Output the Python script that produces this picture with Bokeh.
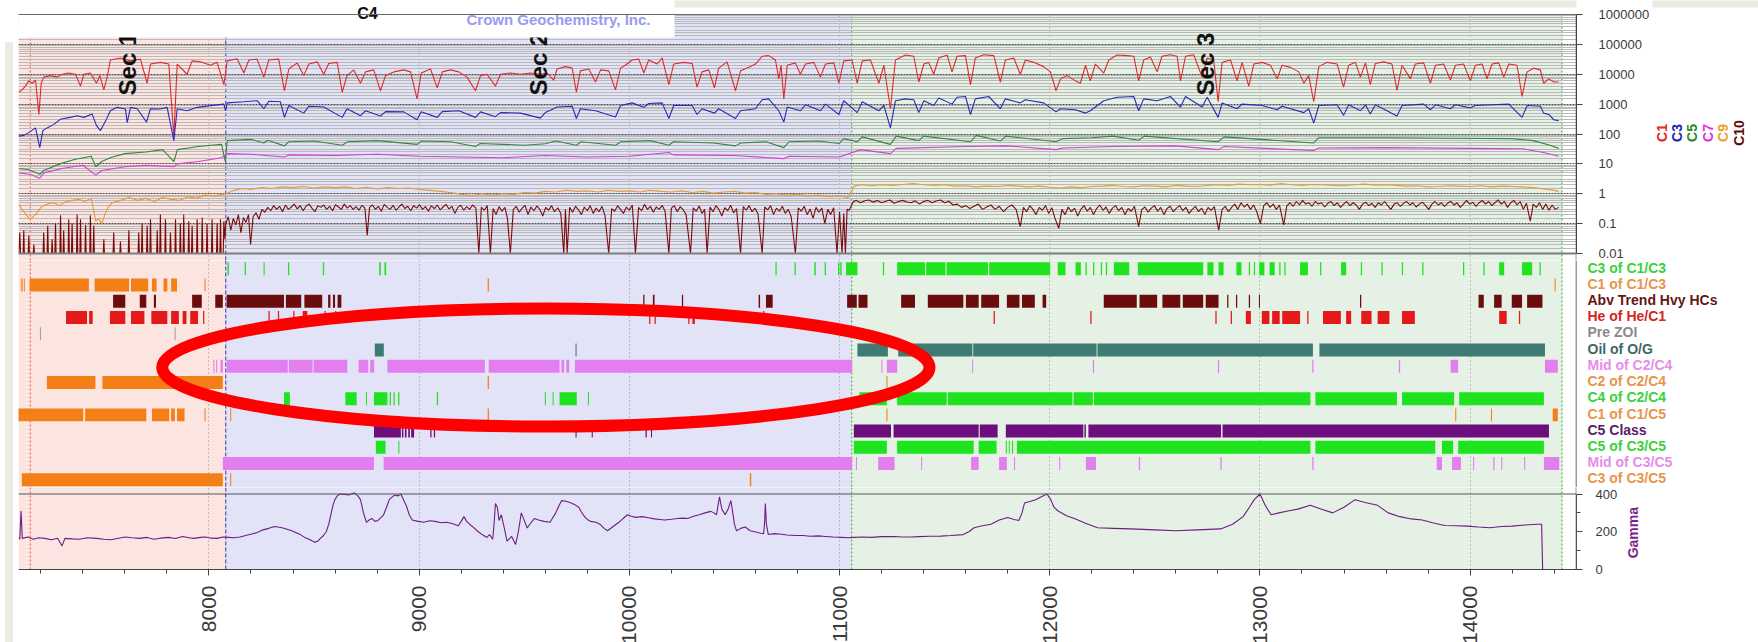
import math
from bokeh.plotting import figure
from bokeh.models import (Range1d, FixedTicker, CustomJSTickFormatter, Span, Grid,
                          ColumnDataSource, Div)
from bokeh.layouts import column, row
from bokeh.core.properties import value
from bokeh.embed import file_html
from bokeh.resources import INLINE

FONT = "Liberation Sans"

# ------------------------------------------------------------------ depth axis
DEPTH_MIN, DEPTH_MAX = 7094, 14506
X_MAJOR = [8000, 9000, 10000, 11000, 12000, 13000, 14000]
X_MINOR = [d for d in range(7200, 14500, 200) if d % 1000 != 0]

# ------------------------------------------------------------------ sections
SECTIONS = [("Sec 1", 7094, 8080, "#FCE4E1"),
            ("Sec 2", 8080, 11058, "#E3E3F8"),
            ("Sec 3", 11058, 14437, "#E4F1E4")]
SEC_LABEL_DEPTH = [7612, 9567, 12741]
BOUNDARY_LINES = [(7150, "#E05050", "2 2"), (8080, "#3434B0", "4 2"),
                  (11058, "#35A535", "2 2"), (14437, "#35A535", "2 2")]

# ------------------------------------------------------------------ gas curves (depth ft, ppm)
C1 = [(7095,2500),(7111,3000),(7127,4000),(7143,6000),(7159,5000),(7175,6300),(7191,450),(7202,5000),
      (7214,8000),(7246,9000),(7278,8000),(7302,10000),(7333,11000),(7365,10000),(7389,4000),(7405,10000),
      (7436,11000),(7465,5000),(7481,9000),(7500,3000),(7516,8000),(7531,30000),(7579,35000),(7627,28000),
      (7674,32000),(7706,5000),(7722,22000),(7769,25000),(7809,22000),(7833,80),(7849,22000),(7896,10000),
      (7920,28000),(7960,26000),(8007,20000),(8039,25000),(8071,4500),(8087,28000),(8134,33000),(8166,11000),
      (8190,30000),(8229,32000),(8261,8000),(8285,30000),(8332,32000),(8359,2800),(8380,15000),(8420,24000),
      (8451,9000),(8475,22000),(8515,26000),(8546,10000),(8570,23000),(8610,25000),(8634,2500),(8657,9000),
      (8689,14000),(8721,5000),(8745,12000),(8784,14000),(8816,2800),(8840,9000),(8880,12000),(8927,14000),
      (8959,12000),(8990,1500),(9010,11000),(9054,15000),(9086,3500),(9110,12000),(9149,14000),(9189,12000),
      (9228,8000),(9268,2800),(9292,9000),(9323,10000),(9363,4000),(9387,10000),(9434,11000),(9482,10000),
      (9529,11000),(9577,10000),(9609,11000),(9640,6300),(9656,15000),(9696,18000),(9728,16000),(9748,2500),
      (9767,13000),(9807,15000),(9839,5500),(9863,14000),(9902,13000),(9934,3000),(9958,16000),(9981,20000),
      (10013,30000),(10045,32000),(10069,11000),(10092,30000),(10132,22000),(10156,35000),(10188,4500),
      (10211,22000),(10259,25000),(10299,23000),(10322,3700),(10346,12000),(10378,14000),(10405,3500),
      (10425,16000),(10465,26000),(10505,2800),(10529,13000),(10568,17000),(10600,22000),(10632,40000),
      (10663,42000),(10695,30000),(10711,7000),(10722,20000),(10735,1500),(10751,20000),(10790,24000),
      (10814,10000),(10838,22000),(10878,25000),(10909,8000),(10933,22000),(10973,24000),(10997,5000),
      (11020,28000),(11060,30000),(11084,5000),(11108,28000),(11147,30000),(11187,5000),(11211,20000),
      (11242,700),(11266,30000),(11313,44000),(11353,40000),(11377,5500),(11401,22000),(11424,25000),
      (11448,10000),(11472,35000),(11512,44000),(11535,12000),(11559,40000),(11599,42000),(11623,4500),
      (11646,35000),(11686,45000),(11734,42000),(11765,5500),(11789,30000),(11829,35000),(11860,10000),
      (11884,30000),(11924,25000),(11971,18000),(12003,12000),(12030,2800),(12051,7000),(12083,9000),
      (12122,6000),(12146,5000),(12170,20000),(12193,6000),(12217,22000),(12257,11000),(12281,30000),
      (12320,44000),(12368,42000),(12400,40000),(12423,6000),(12447,30000),(12479,38000),(12511,12000),
      (12534,40000),(12574,45000),(12606,40000),(12622,6000),(12646,40000),(12685,45000),(12725,8000),
      (12749,35000),(12780,30000),(12801,1200),(12820,25000),(12860,30000),(12891,6000),(12915,25000),
      (12947,4000),(12971,22000),(13010,25000),(13050,20000),(13082,7000),(13105,20000),(13145,17000),
      (13185,12000),(13209,5000),(13232,9000),(13256,1200),(13280,18000),(13320,25000),(13367,22000),
      (13398,3700),(13422,20000),(13454,25000),(13478,8000),(13502,24000),(13525,4500),(13549,23000),
      (13589,26000),(13628,22000),(13652,2900),(13676,20000),(13716,7000),(13739,22000),(13779,24000),
      (13811,5000),(13835,20000),(13874,22000),(13906,6500),(13930,20000),(13969,22000),(14001,6000),
      (14025,20000),(14057,22000),(14080,7000),(14104,22000),(14136,24000),(14160,8000),(14184,22000),
      (14223,20000),(14247,1800),(14271,12000),(14302,16000),(14334,14000),(14350,5000),(14374,7000),
      (14398,5500),(14421,5500)]

C3 = [(7096,85),(7120,90),(7150,120),(7175,160),(7195,35),(7210,130),(7230,160),(7262,210),(7293,310),
      (7340,360),(7373,410),(7405,360),(7444,470),(7465,190),(7484,130),(7508,270),(7531,600),(7563,780),
      (7603,690),(7611,240),(7627,780),(7659,700),(7703,250),(7722,700),(7769,690),(7801,780),(7833,60),
      (7849,700),(7896,600),(7944,780),(8007,890),(8071,1000),(8079,600),(8087,1100),(8166,1200),(8230,1300),
      (8261,700),(8285,1250),(8340,1200),(8359,360),(8380,900),(8451,500),(8475,850),(8546,800),(8634,360),
      (8657,700),(8721,410),(8745,600),(8816,400),(8840,560),(8927,550),(8990,300),(9010,560),(9086,360),
      (9110,560),(9189,600),(9268,360),(9292,550),(9363,380),(9387,520),(9482,500),(9577,340),(9600,520),
      (9640,700),(9656,800),(9728,850),(9748,330),(9767,700),(9839,600),(9934,370),(9958,900),(10013,1100),
      (10069,780),(10092,1050),(10156,1100),(10188,330),(10211,900),(10299,900),(10322,450),(10346,700),
      (10405,500),(10425,700),(10505,330),(10529,600),(10600,700),(10632,1400),(10663,1500),(10711,600),
      (10735,250),(10751,800),(10814,600),(10838,950),(10909,600),(10933,1000),(10997,450),(11020,1300),
      (11084,520),(11108,1200),(11187,600),(11211,900),(11242,160),(11266,1300),(11313,1500),(11353,1400),
      (11377,520),(11401,1300),(11448,900),(11472,1600),(11535,1000),(11559,1700),(11599,1800),(11623,450),
      (11646,1500),(11710,1800),(11765,700),(11789,1500),(11860,1100),(11884,1400),(11971,1100),(12030,550),
      (12051,700),(12122,650),(12170,500),(12193,600),(12257,1300),(12320,1700),(12400,1800),(12423,600),
      (12447,1500),(12511,1300),(12574,1800),(12622,800),(12646,1800),(12725,800),(12749,1700),(12801,360),
      (12820,1100),(12891,700),(12915,1000),(13010,900),(13082,650),(13105,850),(13209,520),(13232,700),
      (13256,230),(13280,900),(13367,950),(13398,420),(13422,950),(13478,600),(13502,950),(13525,470),
      (13549,950),(13652,400),(13676,900),(13779,1000),(13811,650),(13835,950),(13906,700),(13930,950),
      (14001,750),(14025,900),(14104,950),(14184,1000),(14247,360),(14271,900),(14334,850),(14350,500),
      (14374,450),(14398,300),(14421,280)]

C5 = [(7096,7),(7140,6.5),(7195,4.5),(7215,6),(7290,10),(7360,14),(7440,18),(7462,8),(7490,12),(7530,16),
      (7600,22),(7700,25),(7780,30),(7833,12),(7850,30),(7950,38),(8060,45),(8078,12),(8087,60),(8200,66),
      (8261,50),(8280,62),(8359,40),(8380,55),(8500,58),(8634,42),(8660,55),(8800,60),(8990,45),(9010,58),
      (9150,55),(9268,38),(9290,48),(9400,45),(9500,42),(9600,47),(9650,58),(9748,42),(9770,55),(9934,42),
      (9960,55),(10100,60),(10188,42),(10210,55),(10400,50),(10505,40),(10530,50),(10650,55),(10735,35),
      (10760,55),(10900,58),(10997,48),(11020,70),(11084,55),(11108,80),(11242,45),(11270,85),(11377,60),
      (11400,85),(11623,55),(11650,90),(11765,58),(11790,85),(12030,55),(12060,70),(12200,75),(12300,85),
      (12423,62),(12450,85),(12801,55),(12830,80),(13256,50),(13280,75),(13600,75),(13900,72),(14200,70),
      (14300,60),(14380,42),(14421,33)]

C7 = [(7096,5),(7150,4.5),(7195,3.3),(7215,5),(7300,7),(7400,9),(7462,4.2),(7490,6),(7600,8),(7700,9),
      (7833,8),(7850,10),(7950,12),(8060,16),(8087,22),(8200,21),(8359,17),(8380,20),(8600,19),(8800,21),
      (9000,18),(9200,17),(9400,16),(9600,19),(9800,17),(10000,18),(10188,24),(10210,20),(10500,19),
      (10735,15),(10760,18),(11000,17),(11100,30),(11242,22),(11270,33),(11600,38),(11800,40),(12030,30),
      (12060,34),(12300,38),(12600,40),(12801,30),(12830,38),(13256,28),(13280,34),(13600,35),(14000,33),
      (14250,32),(14350,24),(14421,18)]

C9 = [(7096,0.45),(7110,0.3),(7130,0.2),(7150,0.14),(7175,0.2),(7200,0.35),(7230,0.45),(7260,0.5),
      (7290,0.4),(7320,0.55),(7350,0.6),(7380,0.65),(7410,0.55),(7440,0.7),(7462,0.12),(7475,0.15),
      (7490,0.1),(7505,0.2),(7520,0.35),(7540,0.5),(7580,0.6),(7620,0.75),(7660,0.6),(7700,0.7),(7740,0.55),
      (7780,0.75),(7820,0.65),(7860,0.6),(7900,0.8),(7940,0.7),(7980,0.9),(8030,0.85),(8080,1.0),(8120,1.3),
      (8160,1.5),(8200,1.4),(8250,1.6),(8300,1.5),(8350,1.7),(8400,1.6),(8450,1.75),(8500,1.55),(8550,1.7),
      (8600,1.6),(8650,1.7),(8700,1.5),(8750,1.65),(8800,1.45),(8850,1.6),(8900,1.5),(8950,1.55),(9000,1.4),
      (9050,1.3),(9100,1.2),(9150,1.1),(9200,0.95),(9250,0.85),(9300,1.0),(9350,0.9),(9400,1.0),(9450,0.95),
      (9500,1.1),(9550,1.05),(9600,1.2),(9650,1.15),(9700,1.3),(9750,1.2),(9800,1.25),(9850,1.15),(9900,1.3),
      (9950,1.2),(10000,1.25),(10050,1.15),(10100,1.3),(10150,1.2),(10200,1.15),(10250,1.25),(10300,1.1),
      (10350,1.2),(10400,1.05),(10450,1.15),(10500,1.2),(10550,1.05),(10600,1.1),(10650,0.95),(10700,1.0),
      (10750,0.9),(10800,0.95),(10850,0.85),(10900,0.9),(10950,0.8),(11000,0.85),(11040,0.75),(11070,1.8),
      (11100,2.0),(11150,1.85),(11200,2.0),(11250,1.9),(11300,2.05),(11350,2.2),(11400,2.0),(11450,1.9),
      (11500,2.0),(11550,1.8),(11600,1.85),(11650,1.7),(11700,1.8),(11750,1.75),(11800,1.9),(11850,1.8),
      (11900,1.7),(11950,1.8),(12000,1.65),(12050,1.55),(12100,1.7),(12150,1.6),(12200,1.75),(12250,1.8),
      (12300,1.9),(12350,1.75),(12400,1.7),(12450,1.85),(12500,1.8),(12550,1.7),(12600,1.9),(12650,1.8),
      (12700,1.75),(12750,1.9),(12800,2.0),(12850,1.9),(12900,2.1),(12950,2.0),(13000,2.05),(13050,1.95),
      (13100,2.2),(13150,2.0),(13200,1.9),(13250,2.05),(13300,2.0),(13350,1.9),(13400,1.85),(13450,2.0),
      (13500,2.1),(13550,1.95),(13600,2.0),(13650,1.9),(13700,1.8),(13750,1.85),(13800,1.7),(13850,1.75),
      (13900,1.85),(13950,1.8),(14000,1.75),(14050,1.85),(14100,1.7),(14150,1.8),(14200,1.75),(14250,1.7),
      (14300,1.6),(14350,1.45),(14400,1.3),(14421,1.2)]

C10 = [(7096,0.01),(7100,0.05),(7104,0.01),(7116,0.01),(7119,0.06),(7122,0.01),(7140,0.01),(7143,0.04),
       (7146,0.01),(7164,0.01),(7167,0.02),(7170,0.01),(7211,0.01),(7214,0.05),(7217,0.01),(7230,0.01),
       (7233,0.085),(7236,0.01),(7251,0.01),(7254,0.03),(7257,0.01),(7267,0.01),(7270,0.1),(7273,0.01),
       (7291,0.01),(7294,0.19),(7297,0.01),(7306,0.01),(7309,0.06),(7312,0.01),(7330,0.01),(7333,0.14),
       (7336,0.01),(7346,0.01),(7349,0.1),(7352,0.01),(7370,0.01),(7373,0.2),(7376,0.01),(7386,0.01),
       (7389,0.14),(7392,0.01),(7410,0.01),(7413,0.09),(7416,0.01),(7433,0.01),(7436,0.19),(7439,0.01),
       (7449,0.01),(7452,0.085),(7455,0.01),(7497,0.01),(7500,0.03),(7503,0.01),(7544,0.01),(7547,0.05),
       (7550,0.01),(7576,0.01),(7579,0.025),(7582,0.01),(7616,0.01),(7619,0.06),(7622,0.01),(7663,0.01),
       (7666,0.05),(7669,0.01),(7679,0.01),(7682,0.1),(7685,0.01),(7703,0.01),(7706,0.085),(7709,0.01),
       (7719,0.01),(7722,0.14),(7725,0.01),(7751,0.01),(7754,0.06),(7757,0.01),(7766,0.01),(7769,0.2),
       (7772,0.01),(7790,0.01),(7793,0.14),(7796,0.01),(7814,0.01),(7817,0.05),(7820,0.01),(7838,0.01),
       (7841,0.14),(7844,0.01),(7861,0.01),(7864,0.1),(7867,0.01),(7877,0.01),(7880,0.2),(7883,0.01),
       (7901,0.01),(7904,0.12),(7907,0.01),(7917,0.01),(7920,0.085),(7923,0.01),(7941,0.01),(7944,0.14),
       (7947,0.01),(7965,0.01),(7968,0.16),(7971,0.01),(7988,0.01),(7991,0.1),(7994,0.01),(8012,0.01),
       (8015,0.14),(8018,0.01),(8036,0.01),(8039,0.1),(8042,0.01),(8052,0.01),(8055,0.14),(8058,0.01),
       (8068,0.01),(8071,0.12),(8076,0.03),
       (8080,0.1),(8092,0.17),(8104,0.06),(8116,0.15),(8128,0.09),(8140,0.2),(8152,0.05),(8164,0.16),
       (8176,0.11),(8188,0.2),(8198,0.02),(8210,0.17),(8224,0.23),(8238,0.14),(8252,0.3),(8266,0.24),
       (8280,0.35),(8294,0.27),(8308,0.4),(8322,0.3),(8336,0.38),(8350,0.25),(8364,0.42),(8378,0.3),
       (8392,0.36),(8406,0.45),(8420,0.31),(8434,0.4),(8448,0.27),(8462,0.38),(8476,0.45),(8490,0.33),
       (8504,0.25),(8518,0.4),(8532,0.35),(8546,0.42),(8560,0.3),(8574,0.38),(8588,0.27),(8602,0.43),
       (8616,0.36),(8630,0.3),(8644,0.45),(8658,0.33),(8672,0.4),(8686,0.3),(8700,0.37),(8714,0.28),
       (8728,0.41),(8742,0.33),(8753,0.04),(8764,0.35),(8778,0.42),(8792,0.3),(8806,0.38),(8820,0.26),
       (8834,0.44),(8848,0.35),(8862,0.3),(8876,0.41),(8890,0.28),(8904,0.36),(8918,0.45),(8932,0.32),
       (8946,0.38),(8960,0.27),(8974,0.4),(8988,0.33),(9002,0.43),(9016,0.3),(9030,0.37),(9044,0.26),
       (9058,0.4),(9072,0.32),(9086,0.42),(9100,0.29),(9114,0.36),(9128,0.44),(9142,0.31),(9156,0.38),
       (9170,0.22),(9184,0.35),(9198,0.41),(9212,0.28),(9226,0.37),(9240,0.3),(9254,0.42),(9270,0.33),
       (9284,0.01),(9296,0.36),(9310,0.28),(9324,0.4),(9339,0.01),(9352,0.32),(9366,0.2),(9380,0.37),
       (9394,0.26),(9408,0.35),(9420,0.15),(9434,0.01),(9448,0.3),(9462,0.38),(9476,0.24),(9490,0.33),
       (9504,0.41),(9518,0.2),(9532,0.36),(9546,0.27),(9560,0.39),(9574,0.3),(9588,0.18),(9602,0.35),
       (9616,0.28),(9630,0.4),(9644,0.25),(9660,0.34),(9674,0.22),(9688,0.01),(9696,0.3),(9704,0.01),
       (9716,0.35),(9730,0.24),(9744,0.38),(9758,0.29),(9772,0.2),(9786,0.36),(9800,0.27),(9814,0.4),
       (9828,0.22),(9842,0.33),(9856,0.25),(9870,0.38),(9884,0.19),(9902,0.01),(9916,0.32),(9930,0.26),
       (9944,0.4),(9958,0.3),(9972,0.22),(9986,0.36),(10000,0.28),(10014,0.42),(10029,0.01),(10044,0.35),
       (10058,0.27),(10072,0.44),(10086,0.3),(10100,0.38),(10114,0.24),(10128,0.36),(10142,0.3),(10156,0.41),
       (10170,0.26),(10188,0.01),(10200,0.33),(10214,0.4),(10228,0.25),(10242,0.37),(10256,0.29),(10270,0.2),
       (10291,0.01),(10304,0.34),(10318,0.26),(10332,0.39),(10346,0.22),(10358,0.3),(10370,0.01),(10384,0.36),
       (10398,0.25),(10412,0.4),(10426,0.3),(10440,0.18),(10454,0.34),(10468,0.27),(10482,0.41),(10496,0.23),
       (10510,0.32),(10529,0.01),(10542,0.37),(10556,0.28),(10570,0.4),(10584,0.25),(10598,0.33),(10612,0.21),
       (10632,0.01),(10644,0.36),(10658,0.29),(10672,0.4),(10686,0.2),(10700,0.33),(10714,0.26),(10728,0.38),
       (10742,0.22),(10756,0.3),(10770,0.17),(10790,0.01),(10804,0.34),(10818,0.26),(10832,0.38),(10846,0.2),
       (10860,0.31),(10874,0.15),(10888,0.35),(10902,0.24),(10916,0.33),(10930,0.1),(10944,0.3),(10958,0.2),
       (10972,0.34),(10988,0.01),(11000,0.25),(11012,0.01),(11020,0.22),(11028,0.01),(11036,0.3),
       (11046,0.28),(11056,0.4),
       (11066,0.55),(11080,0.6),(11100,0.5),(11120,0.58),(11140,0.62),(11160,0.52),(11180,0.6),(11200,0.5),
       (11220,0.56),(11240,0.62),(11260,0.48),(11280,0.55),(11300,0.6),(11320,0.53),(11340,0.5),(11360,0.58),
       (11380,0.45),(11400,0.55),(11420,0.6),(11440,0.5),(11460,0.57),(11480,0.62),(11500,0.5),(11520,0.56),
       (11540,0.42),(11560,0.45),(11580,0.35),(11600,0.4),(11620,0.32),(11640,0.38),(11660,0.45),(11680,0.3),
       (11700,0.36),(11720,0.42),(11740,0.3),(11760,0.38),(11780,0.25),(11800,0.35),(11820,0.42),(11840,0.3),
       (11860,0.08),(11875,0.35),(11890,0.25),(11905,0.4),(11920,0.3),(11935,0.2),(11950,0.35),(11965,0.28),
       (11980,0.4),(11995,0.22),(12010,0.34),(12025,0.15),(12043,0.07),(12058,0.3),(12073,0.2),(12088,0.36),
       (12103,0.25),(12118,0.33),(12133,0.18),(12148,0.3),(12163,0.4),(12178,0.26),(12193,0.35),(12208,0.2),
       (12223,0.32),(12238,0.42),(12253,0.28),(12268,0.36),(12283,0.22),(12298,0.33),(12313,0.4),(12328,0.27),
       (12343,0.35),(12358,0.2),(12373,0.32),(12388,0.26),(12403,0.38),(12423,0.08),(12438,0.3),(12453,0.36),
       (12468,0.24),(12483,0.33),(12498,0.4),(12513,0.26),(12528,0.35),(12543,0.2),(12558,0.32),(12573,0.38),
       (12588,0.25),(12603,0.33),(12618,0.4),(12633,0.27),(12648,0.35),(12663,0.22),(12678,0.3),(12693,0.38),
       (12708,0.25),(12723,0.33),(12738,0.2),(12753,0.35),(12768,0.28),(12783,0.37),(12804,0.06),(12820,0.3),
       (12835,0.38),(12850,0.25),(12865,0.35),(12880,0.45),(12895,0.3),(12910,0.5),(12925,0.36),(12940,0.45),
       (12955,0.3),(12970,0.42),(12985,0.25),(13002,0.1),(13018,0.4),(13033,0.5),(13048,0.35),(13063,0.45),
       (13078,0.3),(13093,0.42),(13113,0.09),(13128,0.4),(13143,0.5),(13158,0.38),(13173,0.55),(13188,0.42),
       (13203,0.6),(13218,0.45),(13233,0.5),(13248,0.38),(13263,0.55),(13278,0.45),(13293,0.5),(13308,0.36),
       (13323,0.48),(13338,0.55),(13353,0.4),(13368,0.5),(13383,0.35),(13398,0.45),(13413,0.55),(13428,0.4),
       (13443,0.5),(13458,0.42),(13473,0.3),(13488,0.45),(13503,0.52),(13518,0.4),(13533,0.48),(13548,0.35),
       (13563,0.5),(13578,0.42),(13593,0.55),(13608,0.4),(13623,0.3),(13638,0.45),(13653,0.5),(13668,0.38),
       (13683,0.48),(13698,0.55),(13713,0.42),(13728,0.5),(13743,0.36),(13758,0.45),(13773,0.52),(13788,0.4),
       (13803,0.3),(13818,0.45),(13833,0.55),(13848,0.42),(13863,0.5),(13878,0.38),(13893,0.48),(13908,0.56),
       (13923,0.42),(13938,0.5),(13953,0.35),(13968,0.45),(13983,0.6),(13998,0.45),(14013,0.52),(14028,0.38),
       (14043,0.5),(14058,0.6),(14073,0.45),(14088,0.55),(14103,0.4),(14118,0.5),(14133,0.62),(14148,0.45),
       (14163,0.55),(14178,0.35),(14193,0.5),(14208,0.6),(14223,0.42),(14238,0.55),(14253,0.3),(14268,0.48),
       (14286,0.12),(14300,0.45),(14315,0.35),(14330,0.5),(14345,0.3),(14360,0.45),(14375,0.28),(14390,0.42),
       (14405,0.3),(14421,0.35)]

GAS_CURVES = [("C1", C1, "#DE2A2A"), ("C3", C3, "#2A2AB8"), ("C5", C5, "#2F8A3A"),
              ("C7", C7, "#D43ED4"), ("C9", C9, "#E99A35"), ("C10", C10, "#7A0B0B")]
GAS_LABEL_COLORS = ["#E02828", "#2323B5", "#2C8A2C", "#DD33DD", "#F0A030", "#5E0A0A"]
LOG_TICKS = [0.01, 0.1, 1, 10, 100, 1000, 10000, 100000, 1000000]

# ------------------------------------------------------------------ gamma ray (depth ft, API)
GAMMA = [(7097,170),(7100,160),(7106,310),(7112,165),(7140,172),(7165,160),(7190,168),(7220,165),(7250,158),
         (7280,166),(7301,125),(7315,165),(7350,162),(7384,160),(7420,168),(7465,165),(7500,160),(7534,158),
         (7570,166),(7602,172),(7635,168),(7670,165),(7705,170),(7738,160),(7770,166),(7807,170),(7840,164),
         (7875,175),(7905,168),(7930,165),(7960,170),(7984,172),(8010,166),(8039,165),(8065,172),(8093,170),
         (8120,168),(8148,172),(8175,180),(8203,188),(8230,196),(8257,210),(8285,218),(8312,228),(8335,224),
         (8353,220),(8375,212),(8394,205),(8415,195),(8435,185),(8455,170),(8476,160),(8490,152),(8503,145),
         (8518,150),(8530,165),(8545,180),(8558,200),(8570,240),(8580,290),(8590,340),(8599,370),(8612,392),
         (8626,400),(8645,398),(8667,395),(8680,402),(8694,405),(8708,390),(8721,370),(8735,300),(8749,250),
         (8762,262),(8776,270),(8790,255),(8804,260),(8818,275),(8831,290),(8845,330),(8858,370),(8872,385),
         (8885,395),(8900,390),(8913,400),(8927,365),(8940,335),(8953,290),(8967,262),(8995,255),(9022,250),
         (9050,258),(9077,255),(9104,248),(9131,250),(9160,242),(9186,232),(9200,255),(9213,280),(9226,255),
         (9240,240),(9260,222),(9281,200),(9300,185),(9322,170),(9335,185),(9350,160),(9357,250),(9363,350),
         (9372,330),(9380,260),(9391,290),(9405,220),(9418,150),(9440,175),(9459,133),(9472,200),(9486,300),
         (9500,260),(9514,220),(9530,245),(9548,270),(9568,262),(9595,255),(9623,250),(9636,275),(9650,300),
         (9664,335),(9678,365),(9698,362),(9718,355),(9738,345),(9759,330),(9772,305),(9787,280),(9800,265),
         (9815,255),(9841,250),(9860,240),(9880,218),(9896,205),(9920,225),(9950,250),(9970,270),(9991,290),
         (10010,282),(10030,276),(10060,280),(10090,274),(10120,268),(10145,265),(10169,262),(10200,266),
         (10230,270),(10255,272),(10278,270),(10305,282),(10333,290),(10360,300),(10388,308),(10402,300),
         (10415,290),(10422,340),(10429,385),(10440,320),(10456,290),(10470,320),(10483,365),(10492,300),
         (10500,240),(10510,205),(10530,218),(10551,225),(10575,205),(10606,197),(10625,192),(10639,190),
         (10644,260),(10647,350),(10652,240),(10661,185),(10690,190),(10715,188),(10750,183),(10790,180),
         (10825,180),(10860,176),(10900,178),(10934,175),(10970,172),(11010,170),(11043,168),(11070,170),
         (11110,172),(11152,170),(11200,174),(11261,175),(11300,172),(11338,172),(11380,174),(11430,176),
         (11481,177),(11530,180),(11588,185),(11615,200),(11640,221),(11680,232),(11720,240),(11760,262),
         (11800,275),(11830,265),(11853,260),(11868,300),(11880,352),(11905,360),(11933,370),(11960,385),
         (11987,400),(12005,370),(12020,330),(12040,310),(12080,285),(12120,269),(12170,245),(12227,221),
         (12300,218),(12387,215),(12500,210),(12600,205),(12700,210),(12813,215),(12870,240),(12920,280),
         (12950,330),(12973,370),(13000,400),(13025,340),(13053,290),(13090,300),(13133,310),(13180,320),
         (13240,340),(13290,320),(13346,300),(13400,330),(13453,370),(13500,355),(13560,340),(13610,300),
         (13666,280),(13720,268),(13772,262),(13830,245),(13880,233),(13930,232),(13986,230),(14040,225),
         (14093,221),(14150,228),(14200,230),(14260,236),(14317,240),(14340,240),(14345,0)]
GAMMA_TICKS = [0, 200, 400]

# ------------------------------------------------------------------ flag intervals (depth ft)
C3_OF_C1C3 = [(8088,8095),(8170,8176),(8260,8265),(8376,8382),(8542,8548),(8810,8818),(8835,8843),
              (10695,10701),(10786,10792),(10880,10887),(10929,10935),(10993,10999),(11003,11010),
              (11031,11085),(11206,11212),(11274,11407),(11412,11504),(11509,11706),(11712,12002),
              (12038,12075),(12123,12148),(12170,12176),(12206,12212),(12243,12249),(12267,12273),
              (12305,12378),(12419,12730),(12750,12779),(12803,12827),(12888,12912),(12947,12953),
              (12971,12977),(12997,13021),(13046,13070),(13092,13098),(13116,13122),(13191,13228),
              (13286,13292),(13386,13410),(13480,13486),(13578,13584),(13675,13681),(13772,13778),
              (13966,13972),(14063,14069),(14138,14162),(14247,14295),(14330,14336)]
C1_OF_C1C3 = [(7105,7109),(7112,7116),(7120,7124),(7147,7429),(7456,7620),(7629,7711),(7729,7751),
              (7784,7802),(7820,7848),(7979,7984),(9326,9332),(14402,14407)]
ABV_TREND_HVY = [(7544,7602),(7671,7702),(7738,7748),(7920,7966),(8030,8066),(8084,8357),(8366,8439),
                 (8454,8539),(8567,8578),(8590,8600),(8612,8630),(10066,10072),(10112,10120),(10250,10256),
                 (10615,10622),(10650,10682),(11036,11082),(11090,11133),(11293,11359),(11420,11589),
                 (11601,11662),(11674,11759),(11796,11856),(11868,11929),(11966,11983),(12257,12414),
                 (12427,12511),(12536,12621),(12633,12730),(12742,12803),(12844,12850),(12886,12892),
                 (12947,12953),(12995,13000),(13476,13482),(14040,14065),(14114,14150),(14198,14247),
                 (14271,14344)]
HE_OF_HEC1 = [(7320,7420),(7430,7447),(7529,7602),(7629,7693),(7726,7802),(7820,7857),(7875,7893),
              (7911,7948),(7972,7978),(8283,8289),(8328,8334),(8401,8407),(8446,8468),(8550,8556),
              (8600,8606),(10094,10100),(10120,10126),(10280,10286),(10300,10312),(10636,10642),
              (11733,11739),(12193,12199),(12788,12794),(12861,12867),(12933,12957),(13009,13045),
              (13058,13094),(13106,13191),(13225,13231),(13300,13385),(13410,13434),(13482,13531),
              (13560,13616),(13676,13737),(14138,14174),(14232,14238)]
PRE_ZOI = [(7196,7200),(7837,7841)]
OIL_OF_OG = [(8789,8832),(9744,9749),(11085,11230),(11279,11632),(11636,12223),(12227,13252),(13283,14356)]
MID_OF_C2C4 = [(8021,8026),(8034,8039),(8055,8066),(8084,8375),(8380,8493),(8498,8658),(8712,8758),
               (8767,8786),(8849,9313),(9331,9668),(9677,9690),(9700,9714),(9741,11060),(11199,11204),
               (11225,11274),(11631,11636),(12205,12211),(12800,12806),(13249,13255),(13661,13667),
               (13907,13943),(14356,14417)]
C2_OF_C2C4 = [(7229,7460),(7493,8066),(9326,9332),(11223,11228)]
C4_OF_C2C4 = [(8357,8385),(8649,8703),(8747,8752),(8785,8849),(8860,8866),(8878,8884),(8900,8906),
              (9084,9090),(9598,9603),(9635,9640),(9668,9750),(9803,9808),(11095,11225),(11274,11510),
              (11515,12108),(12113,12205),(12210,13240),(13264,13652),(13676,13924),(13948,14351)]
C1_OF_C1C5 = [(7092,7402),(7411,7702),(7729,7811),(7820,7838),(7848,7884),(7979,7984),(8101,8106),
              (9326,9332),(11223,11228),(13929,13934),(14099,14104),(14393,14417)]
C5_CLASS = [(8785,8913),(8918,8925),(8932,8940),(8948,8956),(8962,8976),(9053,9059),(9070,9076),
            (9744,9749),(9821,9826),(10077,10083),(10103,10108),(11068,11245),(11257,11662),(11667,11752),
            (11791,12160),(12165,12172),(12184,12815),(12822,14375)]
C5_OF_C3C5 = [(8794,8840),(8901,8906),(11068,11225),(11274,11638),(11662,11747),(11791,11796),
              (11805,11810),(11820,11826),(11844,13240),(13264,13834),(13866,13919),(13943,14351)]
MID_OF_C3C5 = [(8066,8785),(8831,11060),(11078,11083),(11184,11262),(11388,11393),(11626,11662),
               (11759,11796),(11830,11835),(12045,12050),(12172,12220),(12424,12430),(12812,12818),
               (13249,13255),(13841,13866),(13914,13956),(14014,14019),(14110,14116),(14148,14153),
               (14257,14262),(14351,14424)]
C3_OF_C3C5 = [(7110,8066),(8101,8106),(10573,10580)]

GREEN, ORANGE = "#1EE31E", "#F57F17"
FLAG_ROWS = [
    ("C3 of C1/C3", "#3AD23A", GREEN, C3_OF_C1C3),
    ("C1 of C1/C3", "#E8954A", ORANGE, C1_OF_C1C3),
    ("Abv Trend Hvy HCs", "#651515", "#6B0D0D", ABV_TREND_HVY),
    ("He of He/C1", "#D42424", "#E41A1A", HE_OF_HEC1),
    ("Pre ZOI", "#8A8A8A", "#8C8C8C", PRE_ZOI),
    ("Oil of O/G", "#3F6667", "#3F7A73", OIL_OF_OG),
    ("Mid of C2/C4", "#E68CEC", "#E27EEE", MID_OF_C2C4),
    ("C2 of C2/C4", "#E8954A", ORANGE, C2_OF_C2C4),
    ("C4 of C2/C4", "#3AD23A", GREEN, C4_OF_C2C4),
    ("C1 of C1/C5", "#E8954A", ORANGE, C1_OF_C1C5),
    ("C5 Class", "#5A1C68", "#6C0F7C", C5_CLASS),
    ("C5 of C3/C5", "#3AD23A", GREEN, C5_OF_C3C5),
    ("Mid of C3/C5", "#E68CEC", "#E27EEE", MID_OF_C3C5),
    ("C3 of C3/C5", "#E8954A", ORANGE, C3_OF_C3C5),
]

# ------------------------------------------------------------------ layout (pixels)
FRAME_W = 1558                   # plot box width
FT_PER_PX = (DEPTH_MAX - DEPTH_MIN) / FRAME_W
PX_PER_DECADE = 29.875
ROW_PX, ROW0_PX = 16.23, 268.3   # flag row spacing / first row position from page top
TOP_H, MID_H, GAM_H = 260, 227, 82
TOP_AXIS_W, GAM_AXIS_W = 76, 44
GAM_PX_PER_UNIT = 75.5 / 400

T_TOP = 10 ** (6 + 14 / PX_PER_DECADE)
T_BOTTOM = 10 ** (-2 - 7 / PX_PER_DECADE)
ROWS_TOP = (TOP_H - ROW0_PX) / ROW_PX
ROWS_BOTTOM = (TOP_H + MID_H - ROW0_PX) / ROW_PX
GAM_TOP = 400 + 6.5 / GAM_PX_PER_UNIT

GRID_DOT = "#8f8f8f"
BEIGE = "#ECEBE2"


def new_figure(x_range, y_range, frame_width, frame_height, **kw):
    p = figure(x_range=x_range, y_range=y_range, frame_width=frame_width, frame_height=frame_height,
               output_backend="svg", toolbar_location=None, min_border=0, **kw)
    p.background_fill_color = "white"
    p.border_fill_color = "white"
    p.outline_line_color = None
    p.grid.visible = False
    return p


def add_sections(p, bottom, top):
    p.quad(left=[s[1] for s in SECTIONS], right=[s[2] for s in SECTIONS],
           bottom=[bottom] * len(SECTIONS), top=[top] * len(SECTIONS),
           fill_color=[s[3] for s in SECTIONS], line_color=None, level="image")


def add_vertical_guides(p):
    p.add_layout(Grid(dimension=0, ticker=FixedTicker(ticks=X_MAJOR), grid_line_color=GRID_DOT,
                      grid_line_dash="1 3", level="underlay"))
    for depth, color, dash in BOUNDARY_LINES:
        p.add_layout(Span(location=depth, dimension="height", line_color=color,
                          line_dash=dash, line_width=1, level="underlay"))
    p.add_layout(Span(location=DEPTH_MAX - 1.5, dimension="height", line_color="#6a6a6a", line_width=1))


def style_axis(ax, size, standoff):
    ax.axis_line_color = "#444444"
    ax.major_tick_line_color = "#444444"
    ax.minor_tick_line_color = "#444444"
    ax.major_tick_out = 6
    ax.major_tick_in = 0
    ax.minor_tick_out = 4
    ax.minor_tick_in = 0
    ax.major_label_text_font = FONT
    ax.major_label_text_font_size = size
    ax.major_label_text_color = "#3a3a3a"
    ax.major_label_standoff = standoff


def side_figure(width, y_range, frame_height, y_axis_type="linear", **kw):
    return new_figure(Range1d(0, width), y_range, width, frame_height, y_axis_type=y_axis_type,
                      x_axis_location=None, y_axis_location=None, **kw)


# ------------------------------------------------------------------ top: gas chromatograph (log)
top = new_figure(Range1d(DEPTH_MIN, DEPTH_MAX), Range1d(T_BOTTOM, T_TOP), FRAME_W, TOP_H,
                 y_axis_type="log", y_axis_location="right", x_axis_location=None,
                 min_border_right=TOP_AXIS_W)
add_sections(top, T_BOTTOM, 1e6)
log_minor = [m * 10.0 ** k for k in range(-2, 6) for m in (1.5, 2, 2.5, 3, 4, 5, 6, 7, 8, 9)]
top.add_layout(Grid(dimension=1, ticker=FixedTicker(ticks=log_minor), grid_line_color="#b9b9b9",
                    grid_line_width=1, level="underlay"))
top.add_layout(Grid(dimension=1, ticker=FixedTicker(ticks=LOG_TICKS), grid_line_color="#4a4a4a",
                    grid_line_dash="2 1", level="underlay"))
top.segment(x0=X_MAJOR, x1=X_MAJOR, y0=[T_BOTTOM] * len(X_MAJOR), y1=[1e6] * len(X_MAJOR),
            line_color=GRID_DOT, line_dash="1 3", level="underlay")
for depth, color, dash in BOUNDARY_LINES:
    top.segment(x0=[depth], x1=[depth], y0=[T_BOTTOM], y1=[1e6], line_color=color, line_dash=dash,
                level="underlay")
top.segment(x0=[DEPTH_MAX - 1.5], x1=[DEPTH_MAX - 1.5], y0=[T_BOTTOM], y1=[1e6], line_color="#6a6a6a")
top.add_layout(Span(location=0.01, dimension="width", line_color="#7d7d7d", line_width=2))
top.add_layout(Span(location=1e6, dimension="width", line_color="#6a6a6a", line_width=1))

yax = top.yaxis[0]
yax.ticker = FixedTicker(ticks=LOG_TICKS, minor_ticks=[])
yax.formatter = CustomJSTickFormatter(code="return tick.toString();")
yax.bounds = (0.01, 1e6)
style_axis(yax, "13px", 16)

for name, pts, color in GAS_CURVES:
    top.line([d for d, _ in pts], [v for _, v in pts], line_color=color, line_width=1.1)

top.text(x=SEC_LABEL_DEPTH, y=[1950] * 3, text=[s[0] for s in SECTIONS], angle=math.pi / 2,
         text_align="left", text_baseline="middle", text_color="#111111",
         text_font=value(FONT), text_font_size="24px", text_font_style="bold")

# heading box over the upper-left corner, beige margin to its right
box_right = DEPTH_MIN + 656 * FT_PER_PX
top.quad(left=[DEPTH_MIN - 100], right=[box_right], bottom=[10 ** (6 - 23 / PX_PER_DECADE)],
         top=[T_TOP * 10], fill_color="white", line_color=None)
top.quad(left=[box_right], right=[DEPTH_MAX + 100], bottom=[10 ** (6 + 7 / PX_PER_DECADE)],
         top=[T_TOP * 10], fill_color=BEIGE, line_color=None)
top.text(x=[DEPTH_MIN + 349 * FT_PER_PX], y=[10 ** (6 + 1 / PX_PER_DECADE)], text=["C4"],
         text_align="center", text_baseline="middle", text_font=value(FONT), text_font_size="16px",
         text_font_style="bold", text_color="#111111")
top.text(x=[DEPTH_MIN + 540 * FT_PER_PX], y=[10 ** (6 - 5 / PX_PER_DECADE)],
         text=["Crown Geochemistry, Inc."], text_align="center", text_baseline="middle",
         text_font=value(FONT), text_font_size="15px", text_font_style="bold", text_color="#9A9AF0")

top_side_w = 1750 - FRAME_W - TOP_AXIS_W
top_side = side_figure(top_side_w, Range1d(T_BOTTOM, T_TOP), TOP_H, y_axis_type="log")
top_side.quad(left=[-10], right=[top_side_w + 10], bottom=[10 ** (6 + 7 / PX_PER_DECADE)],
              top=[T_TOP * 10], fill_color=BEIGE, line_color=None)
gas_label_x = [9, 24, 39, 55, 70, 86]
for (name, _, _), color, gx in zip(GAS_CURVES, GAS_LABEL_COLORS, gas_label_x):
    top_side.text(x=[gx], y=[108], text=[name], angle=math.pi / 2, text_align="center",
                  text_baseline="middle", text_font=value(FONT), text_font_size="14px",
                  text_font_style="bold", text_color=color)

# ------------------------------------------------------------------ middle: flag rows
mid = new_figure(Range1d(DEPTH_MIN, DEPTH_MIN + 1750 * FT_PER_PX), Range1d(ROWS_BOTTOM, ROWS_TOP),
                 1750, MID_H, x_axis_location=None, y_axis_location=None)
add_sections(mid, ROWS_BOTTOM + 1, ROWS_TOP - 1)
add_vertical_guides(mid)
bars = dict(left=[], right=[], top=[], bottom=[], color=[])
for i, (label, label_color, bar_color, intervals) in enumerate(FLAG_ROWS):
    for a, b in intervals:
        bars["left"].append(a)
        bars["right"].append(b)
        bars["top"].append(i - 0.4)
        bars["bottom"].append(i + 0.4)
        bars["color"].append(bar_color)
mid.quad(left="left", right="right", top="top", bottom="bottom", source=ColumnDataSource(bars),
         fill_color="color", line_color=None)
mid.text(x=[DEPTH_MIN + 1569 * FT_PER_PX] * len(FLAG_ROWS), y=[i - 0.08 for i in range(len(FLAG_ROWS))],
         text=[r[0] for r in FLAG_ROWS], text_color=[r[1] for r in FLAG_ROWS], text_align="left",
         text_baseline="middle", text_font=value(FONT), text_font_size="14px", text_font_style="bold")

# highlighted interval
mid.ellipse(x=[9603], y=[6.08], width=[3650], height=[7.27], fill_color=None,
            line_color="#FF0000", line_width=12)

# ------------------------------------------------------------------ bottom: gamma ray
bot = new_figure(Range1d(DEPTH_MIN, DEPTH_MAX), Range1d(0, GAM_TOP), FRAME_W, GAM_H,
                 y_axis_location="right", x_axis_location="below",
                 min_border_right=GAM_AXIS_W, min_border_bottom=73)
add_sections(bot, -50, GAM_TOP + 50)
add_vertical_guides(bot)
bot.add_layout(Span(location=400, dimension="width", line_color="#555555", line_width=1))
bot.line([d for d, _ in GAMMA], [g for _, g in GAMMA], line_color="#6E1C82", line_width=1.1)
gax = bot.yaxis[0]
gax.ticker = FixedTicker(ticks=GAMMA_TICKS, minor_ticks=[100, 300])
gax.bounds = (0, 400)
style_axis(gax, "13px", 13)
xax = bot.xaxis[0]
xax.ticker = FixedTicker(ticks=X_MAJOR, minor_ticks=X_MINOR)
xax.major_label_orientation = math.pi / 2
style_axis(xax, "21px", 10)

bot_side_w = 1750 - FRAME_W - GAM_AXIS_W
bot_side = side_figure(bot_side_w, Range1d(0, GAM_TOP), GAM_H, min_border_bottom=73)
bot_side.text(x=[12], y=[195], text=["Gamma"], angle=math.pi / 2, text_align="center",
              text_baseline="middle", text_font=value(FONT), text_font_size="14px",
              text_font_style="bold", text_color="#7B1F8C")

strip = Div(text="", width=8, height=642, styles={
    "background": "linear-gradient(to bottom, #ffffff 0px, #ffffff 37px, %s 37px, %s 100%%)" % (BEIGE, BEIGE)})
layout = row(strip, column(row(top, top_side), mid, row(bot, bot_side)))

open("out.html", "w").write(file_html(layout, INLINE))
